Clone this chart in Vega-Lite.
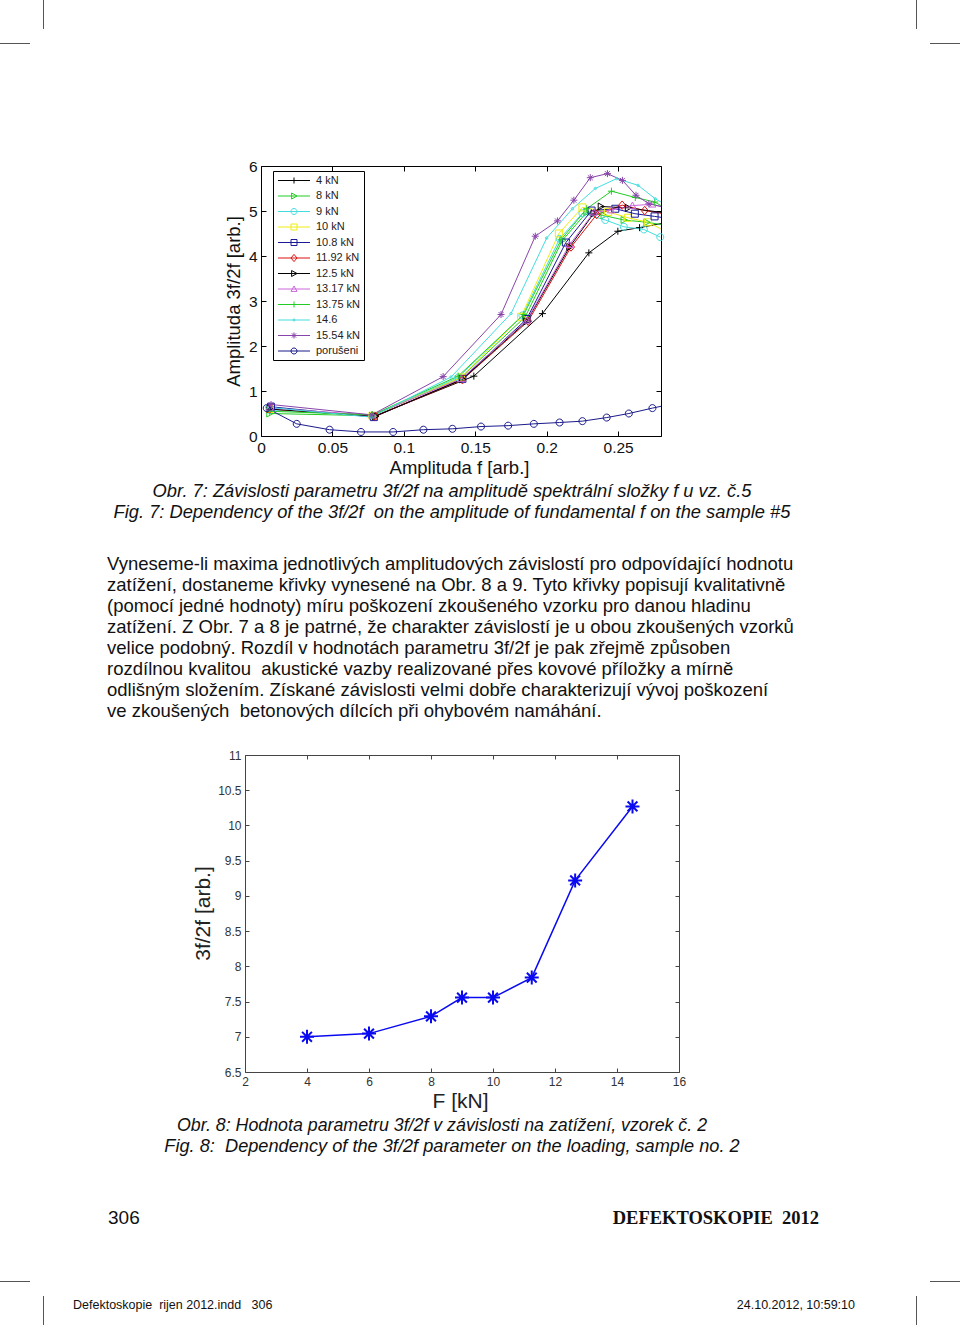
{
  "$schema": "https://vega.github.io/schema/vega-lite/v6.json",
  "width": 960,
  "height": 1325,
  "autosize": {"type": "none"},
  "padding": 0,
  "background": "white",
  "config": {
    "view": {"stroke": null},
    "axis": {"grid": false, "labelFont": "Liberation Sans", "titleFont": "Liberation Sans", "titleFontWeight": "normal", "labelFlush": false, "labelOverlap": false},
    "text": {"font": "Liberation Sans"}
  },
  "resolve": {"scale": {"x": "independent", "y": "independent"}, "axis": {"x": "independent", "y": "independent"}},
  "datasets": {
    "c1": [
      {"series": "4 kN", "f": 0.006, "a": 0.60}, {"series": "4 kN", "f": 0.080, "a": 0.45}, {"series": "4 kN", "f": 0.149, "a": 1.33}, {"series": "4 kN", "f": 0.197, "a": 2.72}, {"series": "4 kN", "f": 0.2295, "a": 4.07}, {"series": "4 kN", "f": 0.2498, "a": 4.55}, {"series": "4 kN", "f": 0.265, "a": 4.63}, {"series": "4 kN", "f": 0.28, "a": 4.72},
      {"series": "8 kN", "f": 0.006, "a": 0.50}, {"series": "8 kN", "f": 0.078, "a": 0.45}, {"series": "8 kN", "f": 0.140, "a": 1.30}, {"series": "8 kN", "f": 0.185, "a": 2.65}, {"series": "8 kN", "f": 0.211, "a": 4.35}, {"series": "8 kN", "f": 0.228, "a": 4.97}, {"series": "8 kN", "f": 0.240, "a": 4.90}, {"series": "8 kN", "f": 0.254, "a": 4.80}, {"series": "8 kN", "f": 0.270, "a": 4.75}, {"series": "8 kN", "f": 0.28, "a": 4.70},
      {"series": "9 kN", "f": 0.006, "a": 0.58}, {"series": "9 kN", "f": 0.078, "a": 0.45}, {"series": "9 kN", "f": 0.138, "a": 1.30}, {"series": "9 kN", "f": 0.183, "a": 2.68}, {"series": "9 kN", "f": 0.209, "a": 4.38}, {"series": "9 kN", "f": 0.225, "a": 4.95}, {"series": "9 kN", "f": 0.241, "a": 4.80}, {"series": "9 kN", "f": 0.254, "a": 4.65}, {"series": "9 kN", "f": 0.268, "a": 4.59}, {"series": "9 kN", "f": 0.2795, "a": 4.42},
      {"series": "10 kN", "f": 0.006, "a": 0.60}, {"series": "10 kN", "f": 0.078, "a": 0.45}, {"series": "10 kN", "f": 0.140, "a": 1.30}, {"series": "10 kN", "f": 0.182, "a": 2.65}, {"series": "10 kN", "f": 0.2085, "a": 4.50}, {"series": "10 kN", "f": 0.225, "a": 5.08}, {"series": "10 kN", "f": 0.243, "a": 4.98}, {"series": "10 kN", "f": 0.257, "a": 4.85}, {"series": "10 kN", "f": 0.271, "a": 4.75}, {"series": "10 kN", "f": 0.28, "a": 4.60},
      {"series": "10.8 kN", "f": 0.007, "a": 0.65}, {"series": "10.8 kN", "f": 0.079, "a": 0.42}, {"series": "10.8 kN", "f": 0.141, "a": 1.27}, {"series": "10.8 kN", "f": 0.186, "a": 2.60}, {"series": "10.8 kN", "f": 0.2134, "a": 4.30}, {"series": "10.8 kN", "f": 0.2314, "a": 5.01}, {"series": "10.8 kN", "f": 0.248, "a": 5.05}, {"series": "10.8 kN", "f": 0.2617, "a": 4.94}, {"series": "10.8 kN", "f": 0.2755, "a": 4.88}, {"series": "10.8 kN", "f": 0.28, "a": 4.86},
      {"series": "11.92 kN", "f": 0.006, "a": 0.60}, {"series": "11.92 kN", "f": 0.080, "a": 0.44}, {"series": "11.92 kN", "f": 0.141, "a": 1.25}, {"series": "11.92 kN", "f": 0.187, "a": 2.55}, {"series": "11.92 kN", "f": 0.217, "a": 4.20}, {"series": "11.92 kN", "f": 0.235, "a": 4.92}, {"series": "11.92 kN", "f": 0.2528, "a": 5.13}, {"series": "11.92 kN", "f": 0.2686, "a": 5.01}, {"series": "11.92 kN", "f": 0.28, "a": 4.95},
      {"series": "12.5 kN", "f": 0.006, "a": 0.60}, {"series": "12.5 kN", "f": 0.080, "a": 0.44}, {"series": "12.5 kN", "f": 0.141, "a": 1.26}, {"series": "12.5 kN", "f": 0.186, "a": 2.55}, {"series": "12.5 kN", "f": 0.216, "a": 4.20}, {"series": "12.5 kN", "f": 0.233, "a": 4.95}, {"series": "12.5 kN", "f": 0.238, "a": 5.10}, {"series": "12.5 kN", "f": 0.257, "a": 5.07}, {"series": "12.5 kN", "f": 0.28, "a": 4.97},
      {"series": "13.17 kN", "f": 0.006, "a": 0.62}, {"series": "13.17 kN", "f": 0.078, "a": 0.46}, {"series": "13.17 kN", "f": 0.140, "a": 1.27}, {"series": "13.17 kN", "f": 0.186, "a": 2.57}, {"series": "13.17 kN", "f": 0.216, "a": 4.25}, {"series": "13.17 kN", "f": 0.233, "a": 4.97}, {"series": "13.17 kN", "f": 0.245, "a": 5.02}, {"series": "13.17 kN", "f": 0.260, "a": 5.12}, {"series": "13.17 kN", "f": 0.274, "a": 5.15}, {"series": "13.17 kN", "f": 0.28, "a": 5.10},
      {"series": "13.75 kN", "f": 0.006, "a": 0.55}, {"series": "13.75 kN", "f": 0.078, "a": 0.47}, {"series": "13.75 kN", "f": 0.138, "a": 1.33}, {"series": "13.75 kN", "f": 0.184, "a": 2.70}, {"series": "13.75 kN", "f": 0.210, "a": 4.36}, {"series": "13.75 kN", "f": 0.228, "a": 5.05}, {"series": "13.75 kN", "f": 0.2453, "a": 5.44}, {"series": "13.75 kN", "f": 0.262, "a": 5.30}, {"series": "13.75 kN", "f": 0.2756, "a": 5.20}, {"series": "13.75 kN", "f": 0.28, "a": 5.12},
      {"series": "14.6", "f": 0.004, "a": 0.64}, {"series": "14.6", "f": 0.077, "a": 0.42}, {"series": "14.6", "f": 0.133, "a": 1.31}, {"series": "14.6", "f": 0.175, "a": 2.72}, {"series": "14.6", "f": 0.200, "a": 4.40}, {"series": "14.6", "f": 0.218, "a": 5.05}, {"series": "14.6", "f": 0.234, "a": 5.50}, {"series": "14.6", "f": 0.249, "a": 5.72}, {"series": "14.6", "f": 0.264, "a": 5.57}, {"series": "14.6", "f": 0.276, "a": 5.27}, {"series": "14.6", "f": 0.28, "a": 5.20},
      {"series": "15.54 kN", "f": 0.007, "a": 0.70}, {"series": "15.54 kN", "f": 0.0776, "a": 0.47}, {"series": "15.54 kN", "f": 0.1275, "a": 1.32}, {"series": "15.54 kN", "f": 0.168, "a": 2.70}, {"series": "15.54 kN", "f": 0.192, "a": 4.44}, {"series": "15.54 kN", "f": 0.2075, "a": 4.78}, {"series": "15.54 kN", "f": 0.219, "a": 5.24}, {"series": "15.54 kN", "f": 0.2305, "a": 5.74}, {"series": "15.54 kN", "f": 0.2425, "a": 5.83}, {"series": "15.54 kN", "f": 0.253, "a": 5.68}, {"series": "15.54 kN", "f": 0.2625, "a": 5.35}, {"series": "15.54 kN", "f": 0.2715, "a": 5.16}, {"series": "15.54 kN", "f": 0.28, "a": 5.10},
      {"series": "porušeni", "f": 0.004, "a": 0.62}, {"series": "porušeni", "f": 0.025, "a": 0.27}, {"series": "porušeni", "f": 0.048, "a": 0.14}, {"series": "porušeni", "f": 0.070, "a": 0.09}, {"series": "porušeni", "f": 0.0925, "a": 0.09}, {"series": "porušeni", "f": 0.1137, "a": 0.14}, {"series": "porušeni", "f": 0.134, "a": 0.16}, {"series": "porušeni", "f": 0.154, "a": 0.21}, {"series": "porušeni", "f": 0.173, "a": 0.23}, {"series": "porušeni", "f": 0.191, "a": 0.27}, {"series": "porušeni", "f": 0.209, "a": 0.30}, {"series": "porušeni", "f": 0.225, "a": 0.33}, {"series": "porušeni", "f": 0.242, "a": 0.41}, {"series": "porušeni", "f": 0.2575, "a": 0.50}, {"series": "porušeni", "f": 0.274, "a": 0.62}, {"series": "porušeni", "f": 0.28, "a": 0.66}
    ],
    "legend": [
      {"series": "4 kN"}, {"series": "8 kN"}, {"series": "9 kN"}, {"series": "10 kN"}, {"series": "10.8 kN"}, {"series": "11.92 kN"}, {"series": "12.5 kN"}, {"series": "13.17 kN"}, {"series": "13.75 kN"}, {"series": "14.6"}, {"series": "15.54 kN"}, {"series": "porušeni"}
    ],
    "c2": [
      {"F": 4, "v": 7.0}, {"F": 6, "v": 7.045}, {"F": 8, "v": 7.29}, {"F": 9, "v": 7.556}, {"F": 10, "v": 7.556}, {"F": 11.25, "v": 7.84}, {"F": 12.65, "v": 9.22}, {"F": 14.5, "v": 10.27}
    ],
    "cap1": [
      {"line": 1, "text": "Obr. 7: Závislosti parametru 3f/2f na amplitudě spektrální složky f u vz. č.5"},
      {"line": 2, "text": "Fig. 7: Dependency of the 3f/2f\u00a0 on the amplitude of fundamental f on the sample #5"}
    ],
    "para": [
      {"line": 1, "text": "Vyneseme-li maxima jednotlivých amplitudových závislostí pro odpovídající hodnotu"},
      {"line": 2, "text": "zatížení, dostaneme křivky vynesené na Obr. 8 a 9. Tyto křivky popisují kvalitativně"},
      {"line": 3, "text": "(pomocí jedné hodnoty) míru poškození zkoušeného vzorku pro danou hladinu"},
      {"line": 4, "text": "zatížení. Z Obr. 7 a 8 je patrné, že charakter závislostí je u obou zkoušených vzorků"},
      {"line": 5, "text": "velice podobný. Rozdíl v hodnotách parametru 3f/2f je pak zřejmě způsoben"},
      {"line": 6, "text": "rozdílnou kvalitou\u00a0 akustické vazby realizované přes kovové příložky a mírně"},
      {"line": 7, "text": "odlišným složením. Získané závislosti velmi dobře charakterizují vývoj poškození"},
      {"line": 8, "text": "ve zkoušených\u00a0 betonových dílcích při ohybovém namáhání."}
    ]
  },
  "layer": [
    {
      "data": {"name": "c1"},
      "layer": [
        {
          "mark": {"type": "line", "strokeWidth": 1},
          "encoding": {
            "x": {"field": "f", "type": "quantitative", "scale": {"domain": [0, 0.28], "range": [261, 661], "nice": false, "zero": false},
              "axis": {"orient": "bottom", "offset": -889, "values": [0, 0.05, 0.1, 0.15, 0.2, 0.25], "format": "~g", "labelFontSize": 15.5, "labelColor": "#111", "domainColor": "#000", "tickColor": "#000", "tickSize": -5, "labelPadding": 9, "title": "Amplituda f [arb.]", "titleFontSize": 18.5, "titleColor": "#111", "titleX": 459, "titleY": 31, "titleAngle": 0, "titleAlign": "center", "titleBaseline": "middle"}},
            "y": {"field": "a", "type": "quantitative", "scale": {"domain": [0, 6], "range": [436, 166], "nice": false, "zero": false},
              "axis": {"orient": "left", "offset": -261, "values": [0, 1, 2, 3, 4, 5, 6], "labelFontSize": 15.5, "labelColor": "#111", "domainColor": "#000", "tickColor": "#000", "tickSize": -5, "labelPadding": 9, "title": "Amplituda 3f/2f [arb.]", "titleFontSize": 18.5, "titleColor": "#111", "titleX": -28, "titleY": 301, "titleAngle": -90, "titleAlign": "center", "titleBaseline": "middle"}},
            "color": {"field": "series", "type": "nominal",
              "scale": {"domain": ["4 kN", "8 kN", "9 kN", "10 kN", "10.8 kN", "11.92 kN", "12.5 kN", "13.17 kN", "13.75 kN", "14.6", "15.54 kN", "porušeni"],
                "range": ["#000000", "#22cc22", "#44dddd", "#eeee11", "#1a1a99", "#dd1111", "#000000", "#cc66dd", "#22cc22", "#44dddd", "#8844aa", "#1a1a8c"]},
              "legend": null}
          }
        },
        {
          "transform": [{"filter": "datum.f < 0.2799"}],
          "mark": {"type": "point", "filled": false, "strokeWidth": 1, "opacity": 1, "size": 49},
          "encoding": {
            "x": {"field": "f", "type": "quantitative", "scale": {"domain": [0, 0.28], "range": [261, 661], "nice": false, "zero": false},
              "axis": {"orient": "top", "offset": -166, "values": [0, 0.05, 0.1, 0.15, 0.2, 0.25], "labels": false, "title": null, "domainColor": "#000", "tickColor": "#000", "tickSize": -5}},
            "y": {"field": "a", "type": "quantitative", "scale": {"domain": [0, 6], "range": [436, 166], "nice": false, "zero": false},
              "axis": {"orient": "right", "offset": -299, "values": [0, 1, 2, 3, 4, 5, 6], "labels": false, "title": null, "domainColor": "#000", "tickColor": "#000", "tickSize": -5}},
            "color": {"field": "series", "type": "nominal",
              "scale": {"domain": ["4 kN", "8 kN", "9 kN", "10 kN", "10.8 kN", "11.92 kN", "12.5 kN", "13.17 kN", "13.75 kN", "14.6", "15.54 kN", "porušeni"],
                "range": ["#000000", "#22cc22", "#44dddd", "#eeee11", "#1a1a99", "#dd1111", "#000000", "#cc66dd", "#22cc22", "#44dddd", "#8844aa", "#1a1a8c"]},
              "legend": null},
            "shape": {"field": "series", "type": "nominal",
              "scale": {"domain": ["4 kN", "8 kN", "9 kN", "10 kN", "10.8 kN", "11.92 kN", "12.5 kN", "13.17 kN", "13.75 kN", "14.6", "15.54 kN", "porušeni"],
                "range": ["M-1,0H1M0,-1V1", "M-0.8,-1L1,0L-0.8,1Z", "M1,0A1,1 0 1,1 -1,0A1,1 0 1,1 1,0Z", "M-1,-1H1V1H-1Z", "M-1,-1H1V1H-1Z", "M0,-1.2L1,0L0,1.2L-1,0Z", "M-0.8,-1L1,0L-0.8,1Z", "M0,-1L1,0.8H-1Z", "M-1,0H1M0,-1V1", "M0.35,0A0.35,0.35 0 1,1 -0.35,0A0.35,0.35 0 1,1 0.35,0Z", "M-1,0H1M0,-1V1M-0.7,-0.7L0.7,0.7M-0.7,0.7L0.7,-0.7", "M1,0A1,1 0 1,1 -1,0A1,1 0 1,1 1,0Z"]},
              "legend": null}
          }
        }
      ]
    },
    {
      "data": {"values": [{}]},
      "mark": {"type": "rect", "fill": "#ffffff", "stroke": "#000000", "strokeWidth": 1},
      "encoding": {"x": {"value": 273.5}, "x2": {"value": 364.5}, "y": {"value": 171.5}, "y2": {"value": 360.5}}
    },
    {
      "data": {"name": "legend"},
      "encoding": {
        "y": {"field": "series", "type": "nominal", "sort": null, "scale": {"type": "point", "padding": 0, "domain": ["4 kN", "8 kN", "9 kN", "10 kN", "10.8 kN", "11.92 kN", "12.5 kN", "13.17 kN", "13.75 kN", "14.6", "15.54 kN", "porušeni"], "range": [180.5, 351]}, "axis": null}
      },
      "layer": [
        {
          "mark": {"type": "rule", "strokeWidth": 1},
          "encoding": {
            "x": {"value": 278}, "x2": {"value": 310},
            "color": {"field": "series", "type": "nominal", "legend": null}
          }
        },
        {
          "mark": {"type": "point", "filled": false, "strokeWidth": 1, "opacity": 1, "size": 36},
          "encoding": {
            "x": {"value": 294},
            "color": {"field": "series", "type": "nominal", "legend": null},
            "shape": {"field": "series", "type": "nominal", "legend": null}
          }
        },
        {
          "mark": {"type": "text", "align": "left", "baseline": "middle", "fontSize": 11, "color": "#222"},
          "encoding": {
            "x": {"value": 316},
            "text": {"field": "series"}
          }
        }
      ]
    },
    {
      "data": {"name": "c2"},
      "layer": [
        {
          "mark": {"type": "line", "color": "#0a0af0", "strokeWidth": 1.5},
          "encoding": {
            "x": {"field": "F", "type": "quantitative", "scale": {"domain": [2, 16], "range": [245, 679], "nice": false, "zero": false},
              "axis": {"orient": "bottom", "offset": -253, "values": [2, 4, 6, 8, 10, 12, 14, 16], "format": "~g", "labelFontSize": 12, "labelColor": "#333", "domainColor": "#444", "tickColor": "#444", "tickSize": -4, "labelPadding": 8, "title": "F [kN]", "titleFontSize": 21, "titleColor": "#222", "titleX": 460, "titleY": 29, "titleAngle": 0, "titleAlign": "center", "titleBaseline": "middle"}},
            "y": {"field": "v", "type": "quantitative", "scale": {"domain": [6.5, 11], "range": [1072, 755], "nice": false, "zero": false},
              "axis": {"orient": "left", "offset": -245, "values": [6.5, 7, 7.5, 8, 8.5, 9, 9.5, 10, 10.5, 11], "format": "~g", "labelFontSize": 12, "labelColor": "#333", "domainColor": "#444", "tickColor": "#444", "tickSize": -4, "labelPadding": 8, "title": "3f/2f [arb.]", "titleFontSize": 21, "titleColor": "#222", "titleX": -42, "titleY": 913, "titleAngle": -90, "titleAlign": "center", "titleBaseline": "middle"}}
          }
        },
        {
          "mark": {"type": "point", "shape": "M-1,0H1M0,-1V1M-0.7,-0.7L0.7,0.7M-0.7,0.7L0.7,-0.7", "size": 196, "color": "#0a0af0", "strokeWidth": 2, "filled": false, "opacity": 1},
          "encoding": {
            "x": {"field": "F", "type": "quantitative", "scale": {"domain": [2, 16], "range": [245, 679], "nice": false, "zero": false},
              "axis": {"orient": "top", "offset": -755, "values": [2, 4, 6, 8, 10, 12, 14, 16], "labels": false, "title": null, "domainColor": "#444", "tickColor": "#444", "tickSize": -4}},
            "y": {"field": "v", "type": "quantitative", "scale": {"domain": [6.5, 11], "range": [1072, 755], "nice": false, "zero": false},
              "axis": {"orient": "right", "offset": -281, "values": [6.5, 7, 7.5, 8, 8.5, 9, 9.5, 10, 10.5, 11], "labels": false, "title": null, "domainColor": "#444", "tickColor": "#444", "tickSize": -4}}
          }
        }
      ]
    },
    {
      "data": {"name": "cap1"},
      "mark": {"type": "text", "align": "center", "baseline": "middle", "fontSize": 18.3, "fontStyle": "italic", "color": "#111"},
      "encoding": {
        "text": {"field": "text"},
        "x": {"value": 452},
        "y": {"field": "line", "type": "quantitative", "scale": {"domain": [1, 2], "range": [492, 513]}, "axis": null}
      }
    },
    {
      "data": {"name": "para"},
      "mark": {"type": "text", "align": "left", "baseline": "middle", "fontSize": 18.5, "color": "#111"},
      "encoding": {
        "text": {"field": "text"},
        "x": {"value": 107},
        "y": {"field": "line", "type": "quantitative", "scale": {"domain": [1, 8], "range": [564, 711]}, "axis": null}
      }
    },
    {
      "data": {"values": [{"text": "Obr. 8: Hodnota parametru 3f/2f v závislosti na zatížení, vzorek č. 2"}]},
      "mark": {"type": "text", "align": "center", "baseline": "middle", "fontSize": 17.8, "fontStyle": "italic", "color": "#111"},
      "encoding": {"text": {"field": "text"}, "x": {"value": 442}, "y": {"value": 1126}}
    },
    {
      "data": {"values": [{"text": "Fig. 8:\u00a0 Dependency of the 3f/2f parameter on the loading, sample no. 2"}]},
      "mark": {"type": "text", "align": "center", "baseline": "middle", "fontSize": 18.2, "fontStyle": "italic", "color": "#111"},
      "encoding": {"text": {"field": "text"}, "x": {"value": 452}, "y": {"value": 1147}}
    },
    {
      "data": {"values": [{"text": "306"}]},
      "mark": {"type": "text", "align": "left", "baseline": "middle", "fontSize": 19, "color": "#111"},
      "encoding": {"text": {"field": "text"}, "x": {"value": 108}, "y": {"value": 1218}}
    },
    {
      "data": {"values": [{"text": "DEFEKTOSKOPIE\u00a0 2012"}]},
      "mark": {"type": "text", "align": "right", "baseline": "middle", "fontSize": 18.5, "font": "Liberation Serif", "fontWeight": "bold", "color": "#111"},
      "encoding": {"text": {"field": "text"}, "x": {"value": 819}, "y": {"value": 1218}}
    },
    {
      "data": {"values": [{"text": "Defektoskopie\u00a0 rijen 2012.indd\u00a0\u00a0 306"}]},
      "mark": {"type": "text", "align": "left", "baseline": "middle", "fontSize": 12.5, "color": "#111"},
      "encoding": {"text": {"field": "text"}, "x": {"value": 73}, "y": {"value": 1305}}
    },
    {
      "data": {"values": [{"text": "24.10.2012, 10:59:10"}]},
      "mark": {"type": "text", "align": "right", "baseline": "middle", "fontSize": 12.5, "color": "#111"},
      "encoding": {"text": {"field": "text"}, "x": {"value": 855}, "y": {"value": 1305}}
    },
    {"data": {"values": [{}]}, "mark": {"type": "rule", "color": "#555", "strokeWidth": 1}, "encoding": {"x": {"value": 43.5}, "y": {"value": 0}, "y2": {"value": 29}}},
    {"data": {"values": [{}]}, "mark": {"type": "rule", "color": "#555", "strokeWidth": 1}, "encoding": {"x": {"value": 916.5}, "y": {"value": 0}, "y2": {"value": 29}}},
    {"data": {"values": [{}]}, "mark": {"type": "rule", "color": "#555", "strokeWidth": 1}, "encoding": {"y": {"value": 43.5}, "x": {"value": 0}, "x2": {"value": 30}}},
    {"data": {"values": [{}]}, "mark": {"type": "rule", "color": "#555", "strokeWidth": 1}, "encoding": {"y": {"value": 43.5}, "x": {"value": 930}, "x2": {"value": 960}}},
    {"data": {"values": [{}]}, "mark": {"type": "rule", "color": "#555", "strokeWidth": 1}, "encoding": {"y": {"value": 1281.5}, "x": {"value": 0}, "x2": {"value": 30}}},
    {"data": {"values": [{}]}, "mark": {"type": "rule", "color": "#555", "strokeWidth": 1}, "encoding": {"y": {"value": 1281.5}, "x": {"value": 930}, "x2": {"value": 960}}},
    {"data": {"values": [{}]}, "mark": {"type": "rule", "color": "#555", "strokeWidth": 1}, "encoding": {"x": {"value": 43.5}, "y": {"value": 1296}, "y2": {"value": 1325}}},
    {"data": {"values": [{}]}, "mark": {"type": "rule", "color": "#555", "strokeWidth": 1}, "encoding": {"x": {"value": 916.5}, "y": {"value": 1296}, "y2": {"value": 1325}}}
  ]
}
